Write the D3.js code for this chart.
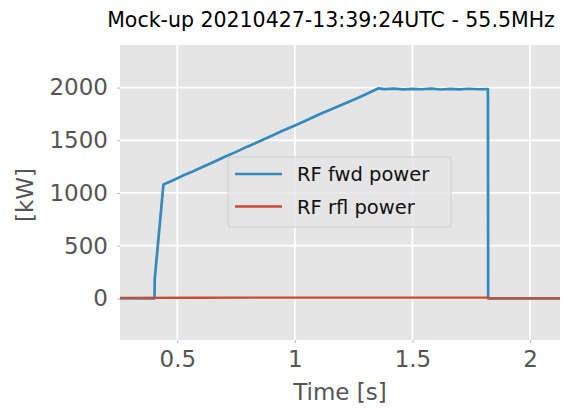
<!DOCTYPE html>
<html>
<head>
<meta charset="utf-8">
<script src="https://cdn.jsdelivr.net/npm/d3@7"></script>
<style>
  body { margin: 0; background: #fff; }
  svg { display: block; font-family: "DejaVu Sans", sans-serif; }
</style>
</head>
<body>
<svg></svg>
<script>
// data
var fwdTime  = [0.256, 0.403, 0.404, 0.441, 0.48, 0.52, 0.56, 0.60, 0.65, 0.70, 0.75, 0.80, 0.85, 0.90, 0.95, 1.00, 1.05, 1.10, 1.15, 1.20, 1.25, 1.30, 1.354, 1.38, 1.42, 1.46, 1.50, 1.54, 1.58, 1.62, 1.66, 1.70, 1.74, 1.78, 1.821, 1.822, 2.13];
var fwdPower = [0, 0, 180, 1080, 1118, 1160, 1198, 1240, 1290, 1342, 1390, 1442, 1490, 1540, 1592, 1640, 1690, 1742, 1790, 1838, 1885, 1935, 1992, 1985, 1990, 1983, 1988, 1984, 1990, 1982, 1987, 1983, 1989, 1984, 1986, 0, 0];
var rflTime  = [0.256, 0.6, 1.0, 1.4, 1.821, 1.823, 2.13];
var rflPower = [5, 6, 7, 8, 7, 0, 0];
var xTicks = [0.5, 1, 1.5, 2];
var yTicks = [0, 500, 1000, 1500, 2000];
var seriesNames = ["RF fwd power", "RF rfl power"];
var seriesColors = ["#348ABD", "#CC4A33"];

var width = 576, height = 410;
var margin = {left: 120, right: 16, top: 45, bottom: 70};
var svg = d3.select("svg").attr("width", width).attr("height", height);

var x = d3.scaleLinear().domain([0.2564, 2.1275]).range([margin.left, width - margin.right]);
var y = d3.scaleLinear().domain([-395, 2404]).range([height - margin.bottom, margin.top]);

// axes background
svg.append("rect")
  .attr("x", margin.left).attr("y", margin.top)
  .attr("width", width - margin.left - margin.right)
  .attr("height", height - margin.top - margin.bottom)
  .attr("fill", "#E5E5E5");

// grid
svg.append("g").selectAll("line").data(xTicks).enter().append("line")
  .attr("x1", d => x(d)).attr("x2", d => x(d))
  .attr("y1", margin.top).attr("y2", height - margin.bottom)
  .attr("stroke", "#fff").attr("stroke-width", 1.8);
svg.append("g").selectAll("line").data(yTicks).enter().append("line")
  .attr("y1", d => y(d)).attr("y2", d => y(d))
  .attr("x1", margin.left).attr("x2", width - margin.right)
  .attr("stroke", "#fff").attr("stroke-width", 1.8);

// axes (labels only, ggplot style)
var xAxis = svg.append("g")
  .attr("transform", "translate(0," + (height - margin.bottom) + ")")
  .call(d3.axisBottom(x).tickValues(xTicks).tickSize(3).tickPadding(8).tickFormat(d3.format("")));
var yAxis = svg.append("g")
  .attr("transform", "translate(" + margin.left + ",0)")
  .call(d3.axisLeft(y).tickValues(yTicks).tickSize(3).tickPadding(9).tickFormat(d3.format("")));
[xAxis, yAxis].forEach(function (a) {
  a.select(".domain").remove();
  a.selectAll(".tick line").attr("stroke", "#bbb");
  a.selectAll(".tick text").attr("fill", "#555").style("font-size", "23px")
    .style("font-family", "DejaVu Sans");
});

// lines
svg.append("clipPath").attr("id", "clip").append("rect")
  .attr("x", margin.left).attr("y", margin.top)
  .attr("width", width - margin.left - margin.right)
  .attr("height", height - margin.top - margin.bottom);

var line = d3.line().x(d => x(d[0])).y(d => y(d[1]));
var fwd = d3.zip(fwdTime, fwdPower);
var rfl = d3.zip(rflTime, rflPower);

var plot = svg.append("g").attr("clip-path", "url(#clip)");
plot.append("path").datum(fwd).attr("d", line)
  .attr("fill", "none").attr("stroke", seriesColors[0]).attr("stroke-width", 2.7)
  .attr("stroke-linejoin", "round");
plot.append("path").datum(rfl).attr("d", line)
  .attr("fill", "none").attr("stroke", seriesColors[1]).attr("stroke-width", 2.3);

// legend
var lg = svg.append("g");
lg.append("rect").attr("x", 228).attr("y", 157).attr("width", 223).attr("height", 70)
  .attr("rx", 3).attr("fill", "#E5E5E5").attr("fill-opacity", 0.8)
  .attr("stroke", "#cfcfcf").attr("stroke-width", 1);
seriesNames.forEach(function (name, i) {
  var ly = 174 + i * 32.5;
  lg.append("line").attr("x1", 235).attr("x2", 282).attr("y1", ly).attr("y2", ly)
    .attr("stroke", seriesColors[i]).attr("stroke-width", 2.4);
  lg.append("text").attr("x", 297).attr("y", ly + 7).text(name)
    .style("font-size", "19.5px").attr("fill", "#111");
});

// titles
svg.append("text").attr("x", 331).attr("y", 27).attr("text-anchor", "middle")
  .style("font-size", "20.5px").attr("fill", "#000")
  .text("Mock-up 20210427-13:39:24UTC - 55.5MHz");
svg.append("text").attr("x", 340).attr("y", 400).attr("text-anchor", "middle")
  .style("font-size", "23px").attr("fill", "#555").text("Time [s]");
svg.append("text").attr("transform", "translate(33,195) rotate(-90)")
  .attr("text-anchor", "middle")
  .style("font-size", "23px").attr("fill", "#555").text("[kW]");
</script>
</body>
</html>
